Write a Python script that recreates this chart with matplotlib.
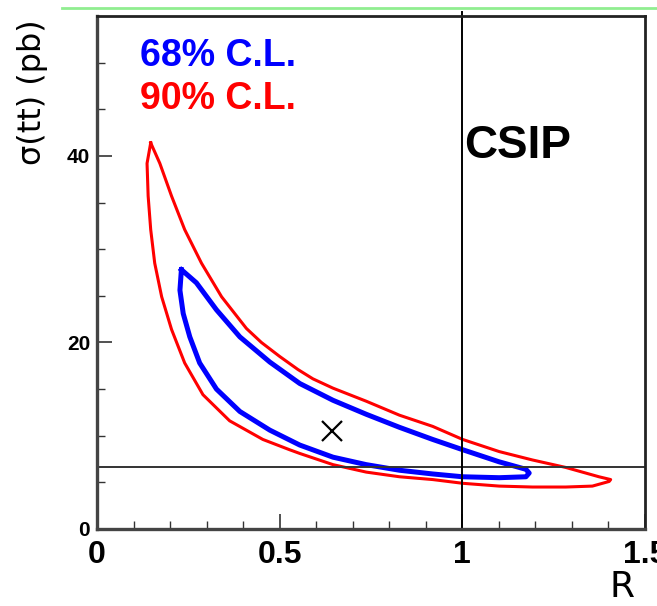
import numpy as np
from matplotlib import pyplot as plt
from matplotlib.lines import Line2D

# 90% C.L. contour (red), traced round from the top tip
red_x = [0.147, 0.137, 0.140, 0.147, 0.158, 0.177, 0.204, 0.240, 0.290, 0.363, 0.454,
         0.527, 0.555, 0.646, 0.737, 0.828, 0.919, 1.001, 1.101, 1.192, 1.283, 1.356,
         1.402, 1.406, 1.374, 1.283, 1.192, 1.101, 1.001, 0.919, 0.828, 0.737, 0.646,
         0.591, 0.550, 0.500, 0.450, 0.409, 0.341, 0.286, 0.240, 0.204, 0.172, 0.147]
red_y = [41.4, 39.2, 35.7, 32.1, 28.5, 24.9, 21.4, 17.8, 14.4, 11.6, 9.6,
         8.5, 8.1, 6.9, 6.1, 5.6, 5.3, 4.9, 4.6, 4.5, 4.5, 4.6,
         5.1, 5.3, 5.6, 6.6, 7.4, 8.3, 9.6, 11.0, 12.2, 13.7, 15.1,
         16.1, 17.1, 18.5, 20.0, 21.5, 24.9, 28.5, 32.1, 35.7, 39.2, 41.4]

# 68% C.L. contour (blue)
blue_x = [0.231, 0.227, 0.236, 0.254, 0.281, 0.327, 0.391, 0.473, 0.555, 0.646, 0.737,
          0.828, 0.919, 1.001, 1.101, 1.174, 1.183, 1.174, 1.101, 1.001, 0.919, 0.828,
          0.737, 0.646, 0.555, 0.473, 0.391, 0.327, 0.272, 0.231]
blue_y = [27.8, 25.6, 23.1, 20.6, 17.8, 15.0, 12.6, 10.6, 9.0, 7.7, 6.9,
          6.3, 5.9, 5.6, 5.5, 5.6, 6.0, 6.4, 7.2, 8.5, 9.6, 10.9,
          12.3, 13.8, 15.6, 17.9, 20.6, 23.5, 26.4, 27.8]

best_fit = (0.642, 10.5)
sigma_sm = 6.7
r_sm = 1.0

x_ticks = [0, 0.5, 1, 1.5]
x_ticklabels = ['0', '0.5', '1', '1.5']
y_ticks = [0, 20, 40]
y_ticklabels = ['0', '20', '40']


def main():
    fig = plt.figure(figsize=(6.57, 6.06), dpi=100)
    ax = fig.add_axes([97 / 657, 77 / 606, 548 / 657, 513 / 606])

    ax.plot(red_x, red_y, color='#ff0000', lw=2.2, solid_joinstyle='round')
    ax.plot(blue_x, blue_y, color='#0000ff', lw=3.6, solid_joinstyle='round')
    ax.plot(*best_fit, marker='x', color='black', ms=15, mew=1.6, ls='none')

    ax.axhline(sigma_sm, color='#333333', lw=1.4)
    ax.axvline(r_sm, ymin=0, ymax=1.008, color='black', lw=1.4, clip_on=False)

    ax.text(0.1175, 49.6, '68% C.L.', color='#0000ff', fontsize=27,
            fontweight='bold', family='Liberation Sans')
    ax.text(0.1175, 45.0, '90% C.L.', color='#ff0000', fontsize=27,
            fontweight='bold', family='Liberation Sans')
    ax.text(1.005, 39.8, 'CSIP', color='black', fontsize=33,
            fontweight='bold', family='Liberation Sans')

    ax.set_xlim(0, 1.5)
    ax.set_ylim(0, 55)
    ax.set_xticks(x_ticks)
    ax.set_xticklabels(x_ticklabels, fontsize=23, fontweight='bold', family='Liberation Sans')
    ax.set_xticks(np.arange(0, 1.51, 0.1), minor=True)
    ax.set_yticks(y_ticks)
    ax.set_yticklabels(y_ticklabels, fontsize=15, fontweight='bold', family='Liberation Sans')
    ax.set_yticks(np.arange(0, 55, 5), minor=True)
    ax.tick_params(which='both', direction='in', top=False, right=False, colors='#333333')
    ax.tick_params(which='major', length=11, width=1.2)
    ax.tick_params(which='minor', length=6, width=1.0)
    ax.tick_params(axis='x', which='major', pad=8, labelcolor='black')
    ax.tick_params(axis='y', which='major', pad=5, labelcolor='black')

    for side in ['left', 'bottom']:
        ax.spines[side].set_color('#444444')
        ax.spines[side].set_linewidth(2.4)
    for side in ['top', 'right']:
        ax.spines[side].set_color('#222222')
        ax.spines[side].set_linewidth(2.0)

    fig.text(0.05, 0.848, 'σ(tt) (pb)', rotation=90, fontsize=23,
             ha='center', va='center', family='DejaVu Sans')
    fig.text(0.947, 0.032, 'R', fontsize=26, ha='center', va='center', family='DejaVu Sans')

    fig.add_artist(Line2D([62 / 657, 1.0], [1 - 8 / 606, 1 - 8 / 606],
                          color='#90ee90', lw=2))

    plt.savefig('out.png', dpi=100)
    plt.close()


if __name__ == '__main__':
    main()
